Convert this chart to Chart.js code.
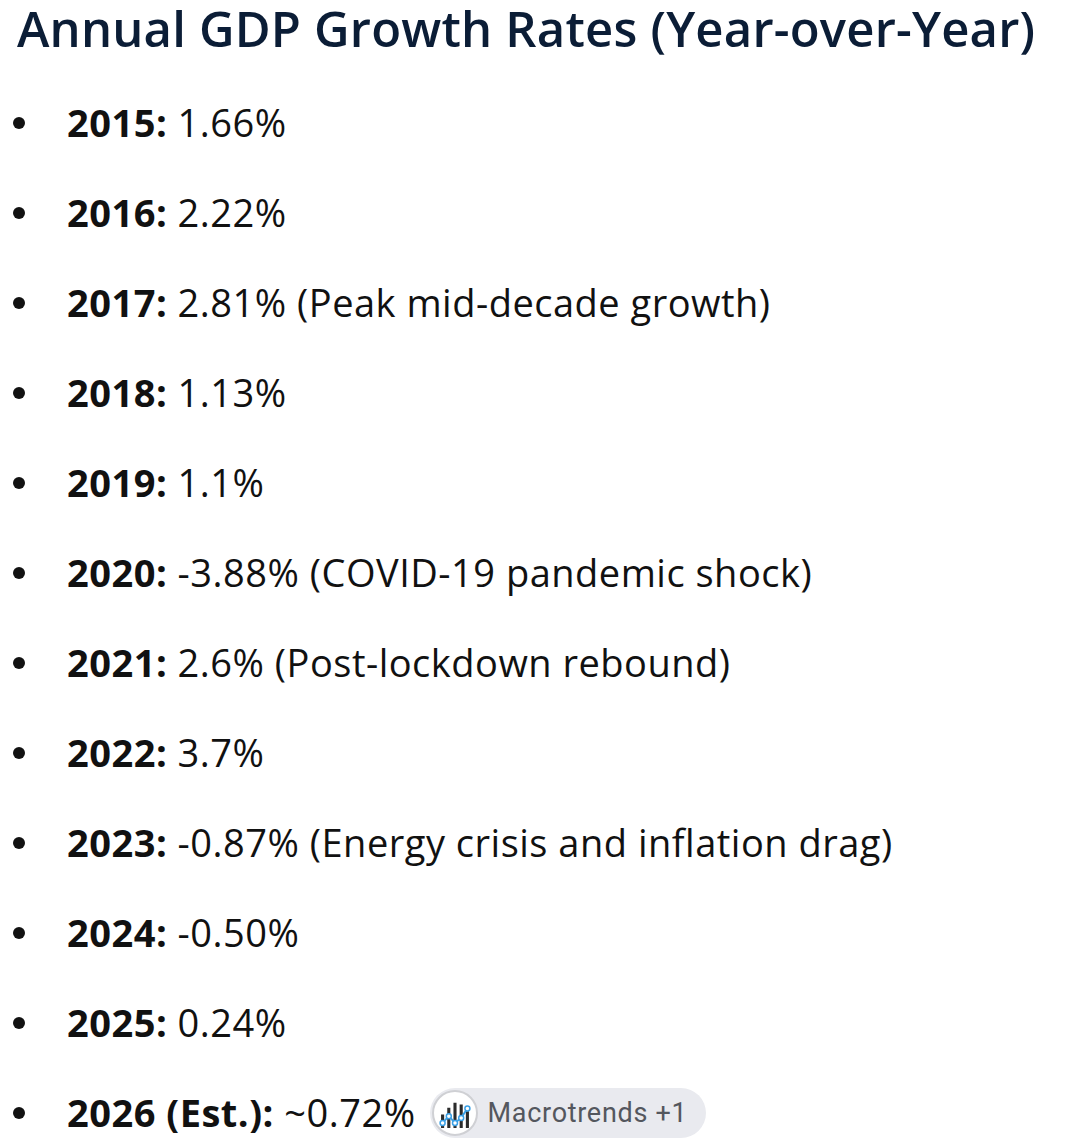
<!DOCTYPE html>
<html>
<head>
<meta charset="utf-8">
<script src="https://cdn.jsdelivr.net/npm/chart.js@4.4.1/dist/chart.umd.min.js"></script>
<style>
  html, body { margin: 0; padding: 0; background: #fff; }
  body { width: 1068px; height: 1146px; position: relative; overflow: hidden; font-family: "Open Sans", Lato, sans-serif; color: #111; }
  #title { position: absolute; left: 17px; top: 4px; font-size: 49px; font-weight: 600; letter-spacing: 0.2px; color: #0b1d36; white-space: nowrap; line-height: 49px; }
  .row { position: absolute; left: 0; height: 90px; line-height: 90px; font-size: 38px; letter-spacing: 0.5px; white-space: nowrap; }
  .dot { position: absolute; left: 13px; top: 40px; width: 12px; height: 12px; border-radius: 50%; background: #111; }
  .txt { position: absolute; left: 67px; top: 0; }
  .txt b { font-weight: 700; }
  .chip { display: inline-block; position: relative; vertical-align: middle; width: 276px; height: 50px; border-radius: 25px; background: #e9eaef; margin-left: 14px; top: -4px; letter-spacing: 0; }
  .icon { position: absolute; left: 2px; top: 2px; width: 42px; height: 42px; border-radius: 50%; border: 2px solid #cfd0d4; background: #fff; overflow: hidden; }
  .chip span { position: absolute; left: 58px; top: 0; line-height: 50px; font-family: Roboto, sans-serif; font-size: 27px; letter-spacing: 0.7px; color: #54575e; }
</style>
</head>
<body>
<div id="title">Annual GDP Growth Rates (Year-over-Year)</div>
<div id="list"></div>
<script>
// values as listed in the reference
const years = ['2015', '2016', '2017', '2018', '2019', '2020', '2021', '2022', '2023', '2024', '2025', '2026 (Est.)'];
const growth = ['1.66%', '2.22%', '2.81%', '1.13%', '1.1%', '-3.88%', '2.6%', '3.7%', '-0.87%', '-0.50%', '0.24%', '~0.72%'];
const notes = ['', '', 'Peak mid-decade growth', '', '', 'COVID-19 pandemic shock', 'Post-lockdown rebound', '', 'Energy crisis and inflation drag', '', '', ''];

// little source badge icon (bars + trend line)
const iconBars = [4, 6, 7.5, 7, 5];
const iconLine = [1.5, 3.5, 1.5, 3, 5.8];
const sourceLabel = 'Macrotrends +1';

const list = document.getElementById('list');

years.forEach((yr, i) => {
    const row = document.createElement('div');
    row.className = 'row';
    row.style.top = (77 + i * 90) + 'px';

    const dot = document.createElement('div');
    dot.className = 'dot';
    row.appendChild(dot);

    const txt = document.createElement('div');
    txt.className = 'txt';
    let html = '<b>' + yr + ':</b> ' + growth[i];
    if (notes[i]) html += ' (' + notes[i] + ')';
    txt.innerHTML = html;

    if (i === years.length - 1) {
        const chip = document.createElement('div');
        chip.className = 'chip';
        chip.innerHTML = '<div class="icon"><canvas id="iconChart" width="42" height="42"></canvas></div><span>' + sourceLabel + '</span>';
        txt.appendChild(chip);
    }
    row.appendChild(txt);
    list.appendChild(row);
});

// badge icon drawn with chart.js
const ictx = document.getElementById('iconChart').getContext('2d');
new Chart(ictx, {
    data: {
        labels: ['a', 'b', 'c', 'd', 'e'],
        datasets: [{
            type: 'line',
            data: iconLine,
            borderColor: '#3aa0e6',
            borderWidth: 2,
            pointRadius: 2.5,
            pointBackgroundColor: '#fff',
            pointBorderColor: '#3aa0e6',
            pointBorderWidth: 1.5
        }, {
            type: 'bar',
            data: iconBars,
            backgroundColor: '#2b2b2b',
            barPercentage: 0.5,
            categoryPercentage: 1
        }]
    },
    options: {
        responsive: false,
        animation: false,
        events: [],
        layout: { padding: { left: 5, right: 5, top: 9, bottom: 6 } },
        plugins: { legend: { display: false }, tooltip: { enabled: false } },
        scales: {
            x: { display: false },
            y: { display: false, min: 0, max: 8 }
        }
    }
});
</script>
</body>
</html>
